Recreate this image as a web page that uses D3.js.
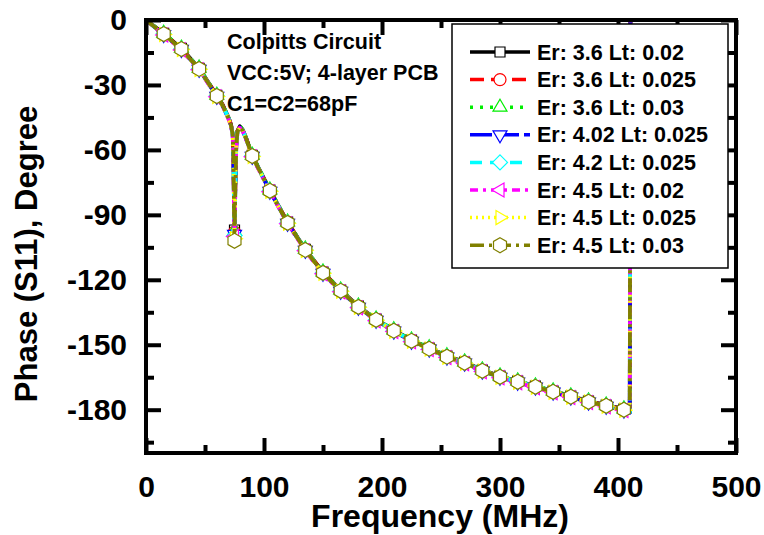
<!DOCTYPE html>
<html>
<head>
<meta charset="utf-8">
<script src="https://cdn.jsdelivr.net/npm/d3@7"></script>
<style>
  body { margin: 0; background: #fff; }
  svg text { font-family: "Liberation Sans", Arial, Helvetica, sans-serif; font-weight: bold; fill: #000; }
</style>
</head>
<body>
<svg id="chart" width="764" height="535"></svg>
<script>
// Sweep frequencies (MHz) shared by all traces
const freq = [0, 15, 30, 45, 60, 65, 70, 72, 73.5, 74, 74.8, 75, 75.6, 76.5, 77.5, 79.5, 82, 85, 90,
  105, 120, 135, 150, 165, 180, 195, 210, 225, 240, 255, 270, 285, 300, 315, 330, 345, 360, 375, 390, 405, 410, 411];

// Phase of S11 (degrees) for each substrate setting
const phaseEr36Lt002 = [0, -6.2, -13.1, -22.3, -34.8, -39.2, -45.2, -48.2, -52.7, -59.0, -92, -97, -77, -56.5,
  -51.2, -49.1, -50.7, -54.7, -62.5, -78.6, -93.4, -105.9, -116.5, -124.8, -132.2, -138.2, -143.2, -147.9,
  -151.5, -155.2, -158.0, -161.7, -164.5, -166.8, -169.1, -171.4, -173.7, -176.0, -177.9, -179.7, -180.9, 178.9];
const phaseEr36Lt0025 = [0, -6.3, -13.2, -22.4, -34.9, -39.3, -45.3, -48.3, -52.8, -59.4, -93, -98, -78, -57,
  -51.3, -49.2, -50.8, -54.8, -62.6, -78.7, -93.5, -106.0, -116.6, -124.9, -132.3, -138.3, -143.3, -148.0,
  -151.6, -155.3, -158.1, -161.8, -164.6, -166.9, -169.2, -171.5, -173.8, -176.1, -178.0, -179.8, -181.0, 178.8];
const phaseEr36Lt003 = [0, -6.1, -13.0, -22.2, -34.7, -39.1, -45.1, -48.1, -52.6, -58.8, -92.5, -97.5, -77.5, -56.8,
  -51.1, -49.0, -50.6, -54.6, -62.4, -78.5, -93.3, -105.8, -116.4, -124.7, -132.1, -138.1, -143.1, -147.8,
  -151.4, -155.1, -157.9, -161.6, -164.4, -166.7, -169.0, -171.3, -173.6, -175.9, -177.8, -179.6, -180.8, 179.0];
const phaseEr402Lt0025 = [0, -6.7, -13.6, -22.8, -35.3, -39.7, -45.7, -48.7, -53.2, -60.3, -94, -99, -80.5, -58.4,
  -51.7, -49.6, -51.2, -55.2, -63.0, -79.1, -93.9, -106.4, -117.0, -125.3, -132.7, -138.7, -143.7, -148.4,
  -152.0, -155.7, -158.5, -162.2, -165.0, -167.3, -169.6, -171.9, -174.2, -176.5, -178.4, -180.2, -181.4, 178.4];
const phaseEr42Lt0025 = [0, -6.4, -13.3, -22.5, -35.0, -39.4, -45.4, -48.4, -52.9, -59.7, -94.5, -99.5, -79.5, -57.5,
  -51.4, -49.3, -50.9, -54.9, -62.7, -78.8, -93.6, -106.1, -116.7, -125.0, -132.4, -138.4, -143.4, -148.1,
  -151.7, -155.4, -158.2, -161.9, -164.7, -167.0, -169.3, -171.6, -173.9, -176.2, -178.1, -179.9, -181.1, 178.7];
const phaseEr45Lt002 = [0, -6.9, -13.8, -23.0, -35.5, -39.9, -45.9, -48.9, -53.4, -60.8, -95, -100, -81, -58.8,
  -51.9, -49.8, -51.4, -55.4, -63.2, -79.3, -94.1, -106.6, -117.2, -125.5, -132.9, -138.9, -143.9, -148.6,
  -152.2, -155.9, -158.7, -162.4, -165.2, -167.5, -169.8, -172.1, -174.4, -176.7, -178.6, -180.4, -181.6, 178.2];
const phaseEr45Lt0025 = [0, -6.7, -13.6, -22.8, -35.3, -39.7, -45.7, -48.7, -53.2, -60.4, -95.5, -101, -80.5, -58.2,
  -51.7, -49.6, -51.2, -55.2, -63.0, -79.1, -93.9, -106.4, -117.0, -125.3, -132.7, -138.7, -143.7, -148.4,
  -152.0, -155.7, -158.5, -162.2, -165.0, -167.3, -169.6, -171.9, -174.2, -176.5, -178.4, -180.2, -181.4, 178.5];
const phaseEr45Lt003 = [0, -6.5, -13.4, -22.6, -35.1, -39.5, -45.5, -48.5, -53.0, -60.0, -96, -102, -80, -58,
  -51.5, -49.4, -51.0, -55.0, -62.8, -78.9, -93.7, -106.2, -116.8, -125.1, -132.5, -138.5, -143.5, -148.2,
  -151.8, -155.5, -158.3, -162.0, -164.8, -167.1, -169.4, -171.7, -174.0, -176.3, -178.2, -180.0, -181.2, 178.6];

const seriesLabels = ["Er: 3.6 Lt: 0.02", "Er: 3.6 Lt: 0.025", "Er: 3.6 Lt: 0.03", "Er: 4.02 Lt: 0.025",
  "Er: 4.2 Lt: 0.025", "Er: 4.5 Lt: 0.02", "Er: 4.5 Lt: 0.025", "Er: 4.5 Lt: 0.03"];
const seriesValues = [phaseEr36Lt002, phaseEr36Lt0025, phaseEr36Lt003, phaseEr402Lt0025,
  phaseEr42Lt0025, phaseEr45Lt002, phaseEr45Lt0025, phaseEr45Lt003];

const xTickValues = [0, 100, 200, 300, 400, 500];
const xMinorValues = [50, 150, 250, 350, 450];
const yTickValues = [0, -30, -60, -90, -120, -150, -180];
const yMinorValues = [-15, -45, -75, -105, -135, -165, -195];
const noteLines = ["Colpitts Circuit", "VCC:5V; 4-layer PCB", "C1=C2=68pF"];

// Trace styling
const styles = [
  { color: "#000000", dash: null,         marker: "square" },
  { color: "#ff0000", dash: "14,7",       marker: "circle" },
  { color: "#00ee00", dash: "3,7",        marker: "triUp" },
  { color: "#0000ff", dash: "22,5",       marker: "triDown" },
  { color: "#00ffff", dash: "12,8",       marker: "diamond" },
  { color: "#ff00ff", dash: "8,5,3,5",    marker: "triLeft" },
  { color: "#ffff00", dash: "2,4",        marker: "triRight" },
  { color: "#808000", dash: "14,5,3,5",   marker: "hexagon" }
];

const svg = d3.select("#chart");
const plotL = 146, plotR = 736, plotT = 20, plotB = 453;

const x = d3.scaleLinear().domain([0, 500]).range([plotL, plotR]);
const y = d3.scaleLinear().domain([-200, 0]).range([plotB, plotT]);

// Marker outlines centred on the origin
function markerPath(kind) {
  const pts = (arr) => "M" + arr.map(p => p.join(",")).join("L") + "Z";
  switch (kind) {
    case "square": return pts([[-5, -5], [5, -5], [5, 5], [-5, 5]]);
    case "circle": return "M6,0A6,6 0 1,1 -6,0A6,6 0 1,1 6,0Z";
    case "triUp": return pts([[0, -8], [7, 4], [-7, 4]]);
    case "triDown": return pts([[0, 8], [7, -4], [-7, -4]]);
    case "triLeft": return pts([[-8, 0], [4, -7], [4, 7]]);
    case "triRight": return pts([[8, 0], [-4, -7], [-4, 7]]);
    case "diamond": return pts([[0, -7.5], [7.5, 0], [0, 7.5], [-7.5, 0]]);
    case "hexagon": {
      const r = 7.5, a = [];
      for (let i = 0; i < 6; i++) {
        const t = -Math.PI / 2 + i * Math.PI / 3;
        a.push([+(r * Math.cos(t)).toFixed(2), +(r * Math.sin(t)).toFixed(2)]);
      }
      return pts(a);
    }
  }
}

svg.append("defs").append("clipPath").attr("id", "plotClip")
  .append("rect").attr("x", plotL).attr("y", plotT).attr("width", plotR - plotL).attr("height", plotB - plotT);

// Traces: line + open markers every 15 MHz
const line = d3.line().x(d => x(d[0])).y(d => y(d[1]));
const traces = svg.append("g");
seriesValues.forEach((vals, i) => {
  const st = styles[i];
  const pts = freq.map((f, k) => [f, vals[k]]);
  const g = traces.append("g");
  g.append("path")
    .datum(pts)
    .attr("clip-path", "url(#plotClip)")
    .attr("d", line)
    .attr("fill", "none")
    .attr("stroke", st.color)
    .attr("stroke-width", 3.8)
    .attr("stroke-linejoin", "round")
    .attr("stroke-dasharray", st.dash);
  g.selectAll("path.mk")
    .data(pts.filter(d => d[0] > 0 && d[0] % 15 === 0))
    .join("path")
    .attr("class", "mk")
    .attr("d", markerPath(st.marker))
    .attr("transform", d => `translate(${x(d[0])},${y(d[1])})`)
    .attr("fill", "#fff")
    .attr("stroke", st.color)
    .attr("stroke-width", 1.2);
});

// Axes with inward ticks on all four sides
function styleAxis(g) {
  g.select(".domain").remove();
  g.selectAll(".tick line").attr("stroke", "#000").attr("stroke-width", 4);
}
const fmt = d => String(d);

svg.append("g").attr("transform", `translate(0,${plotB})`)
  .call(d3.axisBottom(x).tickValues(xTickValues).tickFormat(fmt).tickSizeInner(-15).tickSizeOuter(0).tickPadding(23))
  .call(styleAxis)
  .call(g => g.selectAll("text").attr("font-size", 30).attr("font-family", null));
svg.append("g").attr("transform", `translate(0,${plotB})`)
  .call(d3.axisBottom(x).tickValues(xMinorValues).tickFormat("").tickSizeInner(-8).tickSizeOuter(0))
  .call(styleAxis);
svg.append("g").attr("transform", `translate(0,${plotT})`)
  .call(d3.axisTop(x).tickValues(xTickValues).tickFormat("").tickSizeInner(-15).tickSizeOuter(0))
  .call(styleAxis);
svg.append("g").attr("transform", `translate(0,${plotT})`)
  .call(d3.axisTop(x).tickValues(xMinorValues).tickFormat("").tickSizeInner(-8).tickSizeOuter(0))
  .call(styleAxis);

svg.append("g").attr("transform", `translate(${plotL},0)`)
  .call(d3.axisLeft(y).tickValues(yTickValues).tickFormat(fmt).tickSizeInner(-15).tickSizeOuter(0).tickPadding(19))
  .call(styleAxis)
  .call(g => g.selectAll("text").attr("font-size", 30).attr("font-family", null));
svg.append("g").attr("transform", `translate(${plotL},0)`)
  .call(d3.axisLeft(y).tickValues(yMinorValues).tickFormat("").tickSizeInner(-8).tickSizeOuter(0))
  .call(styleAxis);
svg.append("g").attr("transform", `translate(${plotR},0)`)
  .call(d3.axisRight(y).tickValues(yTickValues).tickFormat("").tickSizeInner(-15).tickSizeOuter(0))
  .call(styleAxis);
svg.append("g").attr("transform", `translate(${plotR},0)`)
  .call(d3.axisRight(y).tickValues(yMinorValues).tickFormat("").tickSizeInner(-8).tickSizeOuter(0))
  .call(styleAxis);

// Frame
svg.append("rect")
  .attr("x", plotL).attr("y", plotT).attr("width", plotR - plotL).attr("height", plotB - plotT)
  .attr("fill", "none").attr("stroke", "#000").attr("stroke-width", 4);

// Axis titles
svg.append("text")
  .attr("x", 440).attr("y", 527)
  .attr("text-anchor", "middle").attr("font-size", 32)
  .text("Frequency (MHz)");
svg.append("text")
  .attr("transform", "translate(37,254) rotate(-90)")
  .attr("text-anchor", "middle").attr("font-size", 31)
  .text("Phase (S11), Degree");

// Circuit note
svg.append("g").selectAll("text").data(noteLines).join("text")
  .attr("x", 227).attr("y", (d, i) => 49 + i * 31)
  .attr("font-size", 21.5)
  .text(d => d);

// Legend
const lg = svg.append("g");
lg.append("rect").attr("x", 452).attr("y", 24).attr("width", 276).attr("height", 244)
  .attr("fill", "#fff").attr("stroke", "#000").attr("stroke-width", 1.5);
seriesLabels.forEach((lab, i) => {
  const st = styles[i];
  const cy = 52 + i * 27.6;
  lg.append("line").attr("x1", 470).attr("x2", 530).attr("y1", cy).attr("y2", cy)
    .attr("stroke", st.color).attr("stroke-width", 3.5).attr("stroke-dasharray", st.dash);
  lg.append("path").attr("d", markerPath(st.marker)).attr("transform", `translate(500,${cy})`)
    .attr("fill", "#fff").attr("stroke", st.color).attr("stroke-width", 1.2);
  lg.append("text").attr("x", 537).attr("y", cy + 7.5).attr("font-size", 21.5).text(lab);
});
</script>
</body>
</html>
